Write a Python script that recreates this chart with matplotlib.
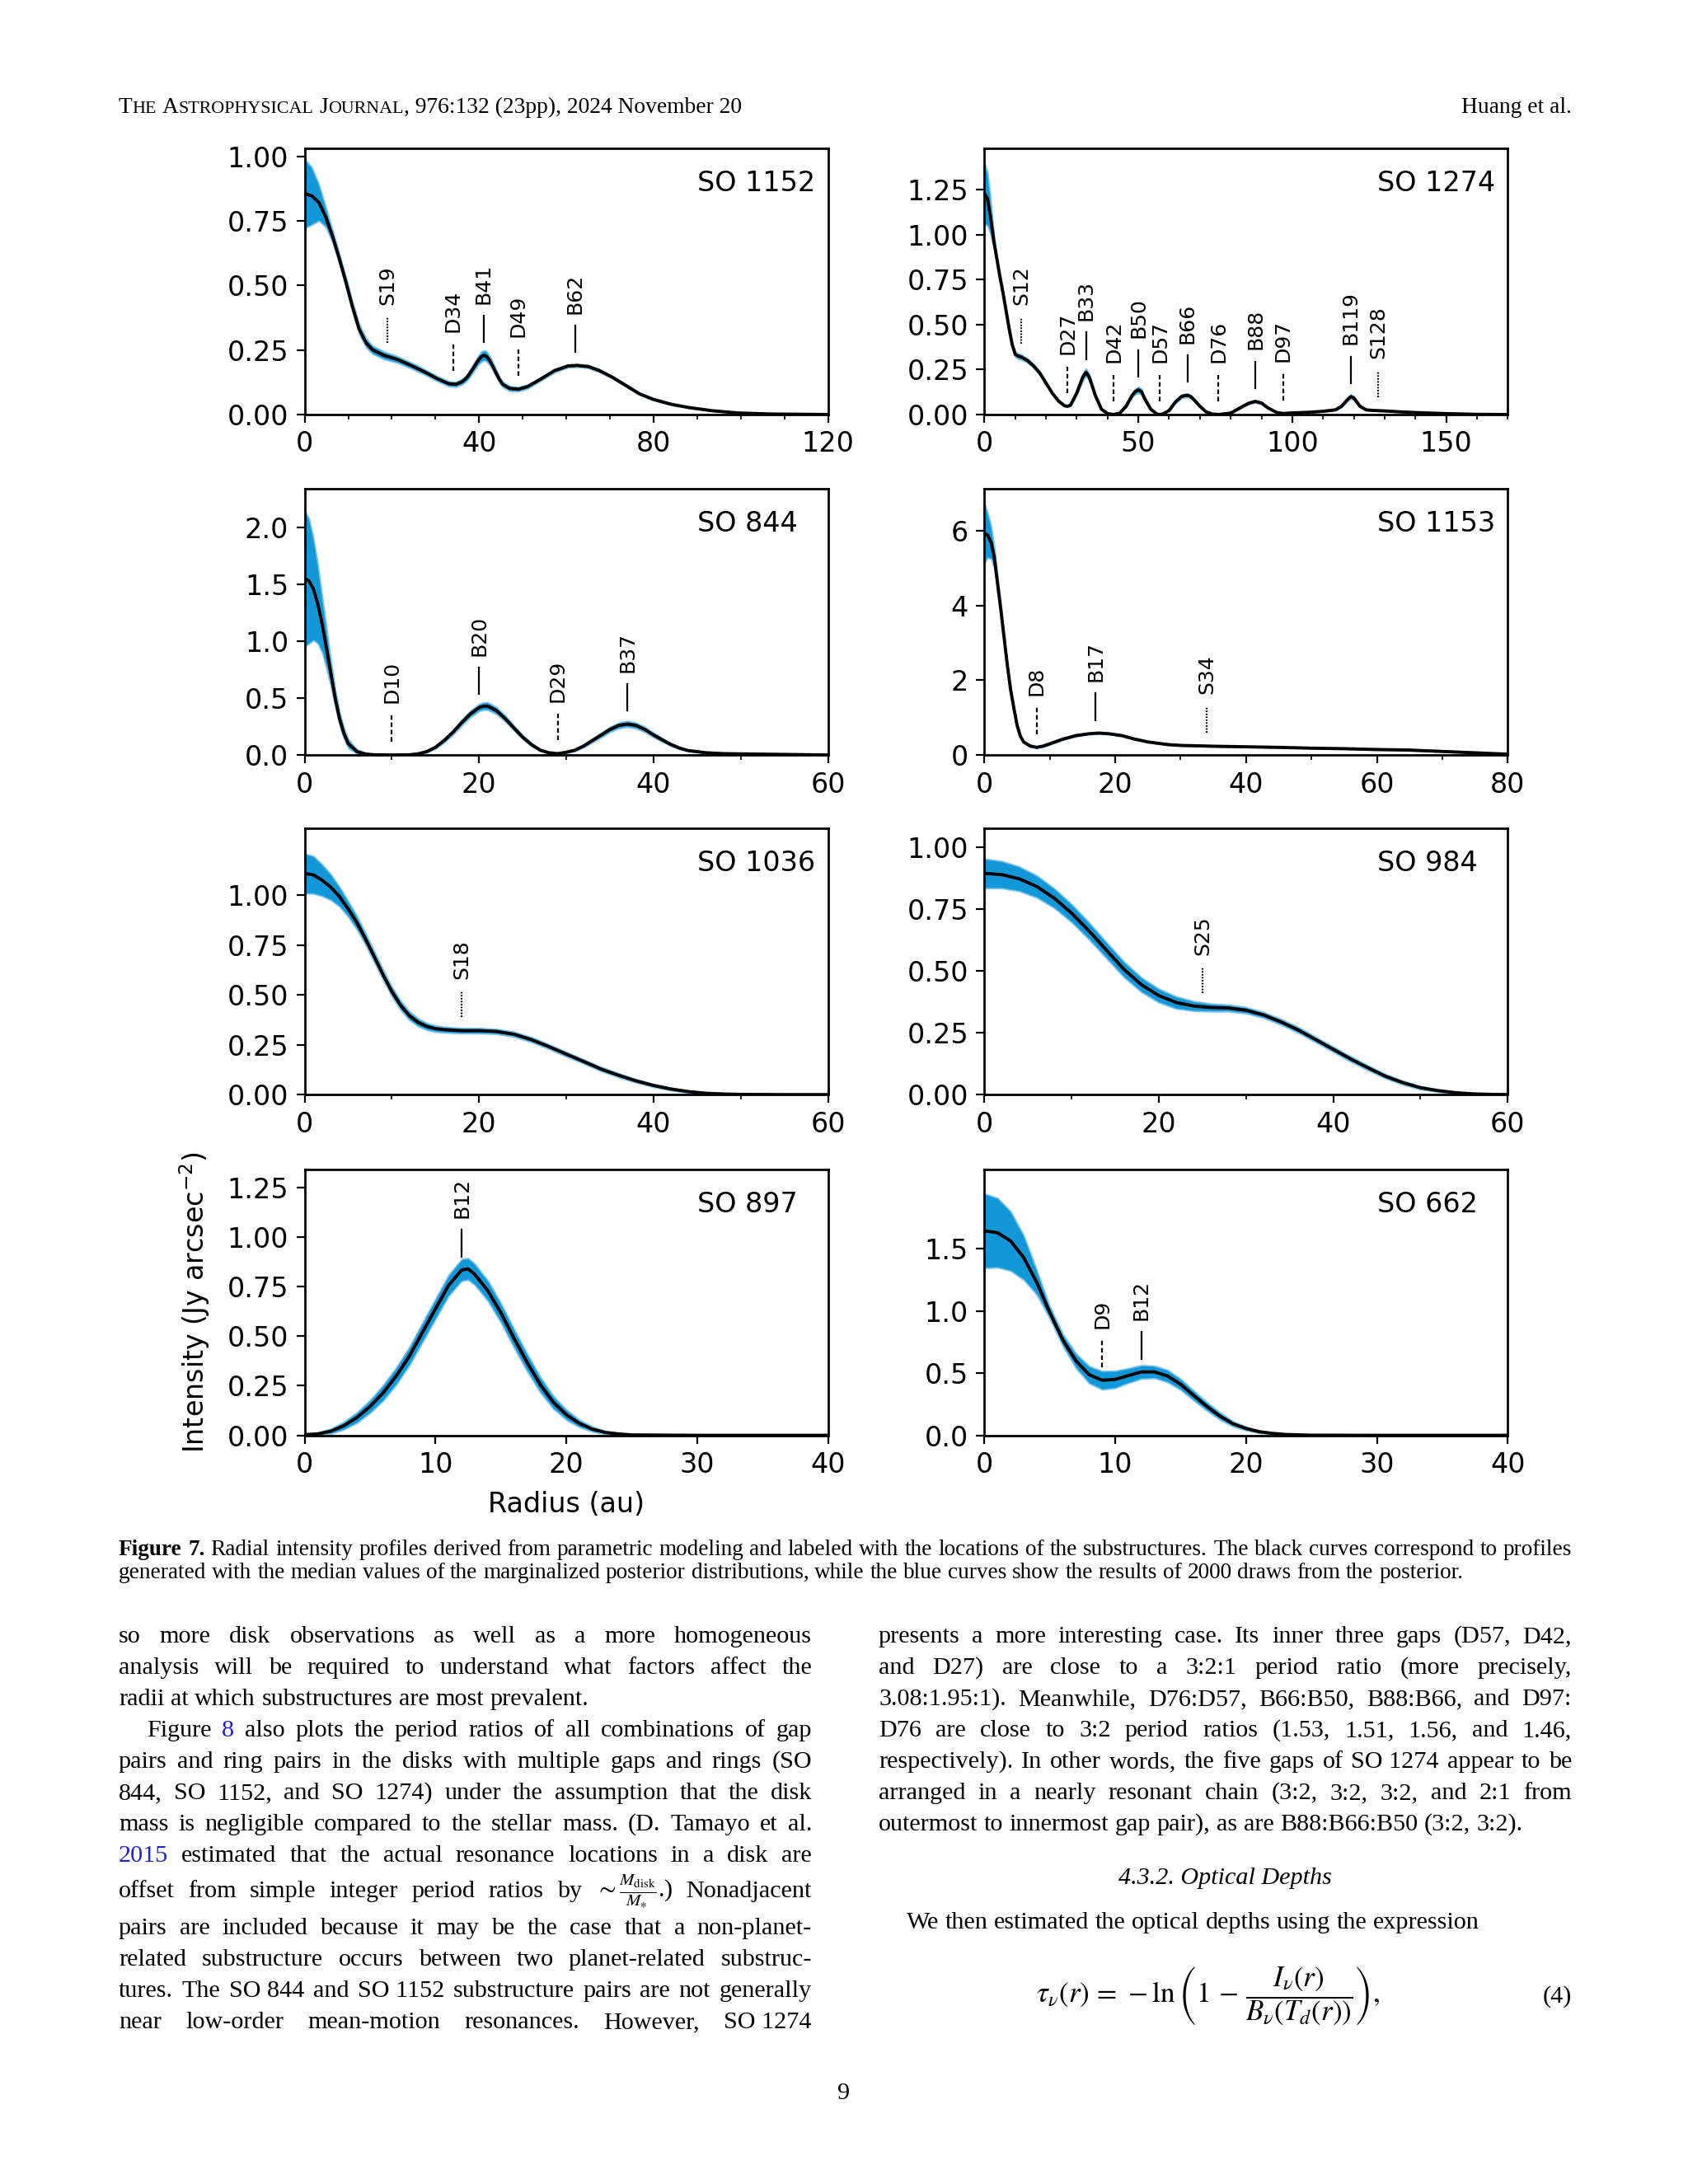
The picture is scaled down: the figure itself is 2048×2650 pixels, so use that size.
import numpy as np
import matplotlib
matplotlib.use('Agg')
import matplotlib.pyplot as plt
from matplotlib.ticker import MultipleLocator

# ---------------- data ----------------
# radius (au), median intensity (Jy/arcsec^2), half width of the blue posterior band

# SO 1152
r_1152 = [0, 1.7, 3.3, 4.8, 6.4, 7.9, 9.5, 11, 12.5, 14.1, 15.6, 18.2, 21.3, 24.4, 27.5,
          30.5, 33.1, 34.7, 36.2, 37.3, 38.3, 39.8, 40.5, 41.1, 41.7, 42.4, 43.2, 43.9, 44.7, 45.4,
          47, 49, 51.1, 54.2, 57.3, 60.4, 62.4, 65, 67.6, 70.6, 73.7, 76.8, 79.9, 84, 88.1,
          93.3, 99.4, 106.6, 120]
i_1152 = [0.856, 0.846, 0.82, 0.766, 0.69, 0.606, 0.51, 0.415, 0.33, 0.277, 0.25, 0.229, 0.213, 0.19, 0.165,
          0.138, 0.119, 0.117, 0.128, 0.145, 0.17, 0.21, 0.224, 0.229, 0.225, 0.21, 0.185, 0.16, 0.135, 0.117,
          0.101, 0.098, 0.108, 0.138, 0.17, 0.188, 0.19, 0.186, 0.17, 0.144, 0.112, 0.08, 0.059, 0.04, 0.027,
          0.015, 0.006, 0.002, 0.0]
s_1152 = [0.135, 0.11, 0.07, 0.04, 0.025, 0.02, 0.02, 0.02, 0.02, 0.018, 0.016, 0.015, 0.013, 0.012, 0.011,
          0.01, 0.01, 0.01, 0.011, 0.013, 0.015, 0.018, 0.02, 0.02, 0.02, 0.018, 0.016, 0.014, 0.012, 0.011,
          0.01, 0.009, 0.008, 0.007, 0.007, 0.006, 0.006, 0.006, 0.006, 0.005, 0.005, 0.004, 0.004, 0.003, 0.002,
          0.002, 0.001, 0.0, 0.0]
subs_1152 = ['S19', 'D34', 'B41', 'D49', 'B62']

# SO 1274
r_1274 = [0, 1, 2, 3, 4, 5, 6, 7, 8, 9, 10, 11, 12, 14, 16, 18, 20, 22, 24, 26,
          27, 28, 30, 31, 32, 33, 34, 35, 36, 38, 40, 42, 44, 46, 48, 49, 50, 51, 52, 54,
          56, 57, 58, 60, 62, 64, 65, 66, 67, 68, 70, 72, 74, 76, 80, 84, 86, 88, 90, 92,
          95, 97, 100, 105, 110, 114, 116, 118, 119, 120, 122, 124, 126, 130, 135, 140, 150, 160, 170]
i_1274 = [1.23, 1.20, 1.10, 0.97, 0.87, 0.77, 0.68, 0.58, 0.48, 0.39, 0.335, 0.325, 0.32, 0.30, 0.27, 0.23, 0.175, 0.12, 0.076, 0.049,
          0.046, 0.053, 0.12, 0.165, 0.21, 0.235, 0.21, 0.16, 0.107, 0.03, 0.005, 0.0, 0.008, 0.046, 0.107, 0.128, 0.137, 0.128, 0.09, 0.03,
          0.003, 0.0, 0.003, 0.023, 0.069, 0.1, 0.105, 0.107, 0.1, 0.084, 0.046, 0.015, 0.003, 0.0, 0.008, 0.046, 0.064, 0.073, 0.064, 0.038,
          0.011, 0.006, 0.009, 0.012, 0.018, 0.026, 0.046, 0.084, 0.1, 0.092, 0.046, 0.026, 0.023, 0.02, 0.015, 0.011, 0.005, 0.001, 0.0]
s_1274 = [0.17, 0.15, 0.1, 0.04, 0.02, 0.015, 0.015, 0.015, 0.015, 0.015, 0.015, 0.015, 0.015, 0.012, 0.01, 0.01, 0.01, 0.008, 0.006, 0.005,
          0.005, 0.006, 0.01, 0.015, 0.02, 0.022, 0.02, 0.015, 0.01, 0.005, 0.002, 0.001, 0.002, 0.006, 0.012, 0.016, 0.018, 0.016, 0.012, 0.005,
          0.002, 0.001, 0.002, 0.004, 0.008, 0.01, 0.011, 0.011, 0.01, 0.008, 0.005, 0.002, 0.001, 0.001, 0.002, 0.005, 0.006, 0.007, 0.006, 0.004,
          0.002, 0.001, 0.001, 0.002, 0.002, 0.003, 0.006, 0.01, 0.012, 0.011, 0.006, 0.003, 0.002, 0.002, 0.001, 0.001, 0.0, 0.0, 0.0]
subs_1274 = ['S12', 'D27', 'B33', 'D42', 'B50', 'D57', 'B66', 'D76', 'B88', 'D97', 'B119', 'S128']

# SO 844
r_844 = [0, 0.5, 1, 1.5, 2, 2.5, 3, 3.5, 4, 4.5, 5, 6, 7, 8, 10, 12, 13, 14, 15, 16,
         17, 18, 19, 20, 20.5, 21, 22, 23, 24, 25, 26, 27, 28, 29, 30, 31, 32, 33, 34, 35,
         36, 37, 38, 39, 40, 41, 42, 43, 44, 46, 48, 50, 55, 60]
i_844 = [1.553, 1.53, 1.46, 1.33, 1.15, 0.94, 0.72, 0.5, 0.32, 0.19, 0.1, 0.03, 0.008, 0.002, 0.0, 0.002, 0.01, 0.03, 0.068, 0.128,
         0.2, 0.285, 0.362, 0.418, 0.43, 0.43, 0.39, 0.32, 0.237, 0.157, 0.092, 0.043, 0.02, 0.012, 0.024, 0.043, 0.08, 0.128, 0.176, 0.225,
         0.26, 0.273, 0.26, 0.225, 0.176, 0.133, 0.092, 0.06, 0.039, 0.02, 0.012, 0.01, 0.005, 0.0]
s_844 = [0.6, 0.55, 0.45, 0.35, 0.25, 0.18, 0.12, 0.08, 0.06, 0.05, 0.04, 0.02, 0.01, 0.005, 0.002, 0.002, 0.004, 0.008, 0.012, 0.018,
         0.022, 0.026, 0.03, 0.032, 0.034, 0.034, 0.032, 0.028, 0.022, 0.018, 0.014, 0.009, 0.006, 0.005, 0.006, 0.009, 0.013, 0.017, 0.021, 0.024,
         0.026, 0.027, 0.026, 0.024, 0.021, 0.017, 0.013, 0.01, 0.008, 0.006, 0.004, 0.003, 0.002, 0.0]
subs_844 = ['D10', 'B20', 'D29', 'B37']

# SO 1153
r_1153 = [0, 0.5, 1, 1.5, 2, 2.5, 3, 3.5, 4, 4.5, 5, 5.5, 6, 7, 8, 9, 10, 12, 14, 16,
          17.5, 19, 21, 23, 25, 28, 30, 35, 40, 45, 50, 55, 60, 65, 70, 75, 80]
i_1153 = [5.94, 5.88, 5.7, 5.3, 4.6, 3.9, 3.15, 2.4, 1.75, 1.25, 0.79, 0.5, 0.35, 0.24, 0.205, 0.24, 0.3, 0.425, 0.52, 0.57,
          0.587, 0.57, 0.52, 0.425, 0.35, 0.28, 0.257, 0.235, 0.22, 0.205, 0.183, 0.169, 0.147, 0.132, 0.095, 0.059, 0.022]
s_1153 = [0.8, 0.6, 0.45, 0.3, 0.2, 0.12, 0.08, 0.06, 0.05, 0.05, 0.04, 0.03, 0.025, 0.02, 0.02, 0.02, 0.02, 0.02, 0.02, 0.02,
          0.02, 0.02, 0.02, 0.02, 0.015, 0.012, 0.012, 0.01, 0.01, 0.01, 0.01, 0.01, 0.01, 0.01, 0.01, 0.008, 0.005]
subs_1153 = ['D8', 'B17', 'S34']

# SO 1036
r_1036 = [0, 1, 2, 3, 4, 5, 6, 7, 8, 9, 10, 11, 12, 13, 14, 15, 16, 18, 20, 22,
          24, 26, 28, 30, 32, 34, 36, 38, 40, 42, 44, 46, 48, 50, 55, 60]
i_1036 = [1.11, 1.103, 1.076, 1.041, 0.993, 0.931, 0.862, 0.779, 0.69, 0.6, 0.517, 0.448, 0.396, 0.363, 0.342, 0.331, 0.326, 0.321, 0.321, 0.317,
          0.303, 0.276, 0.241, 0.203, 0.166, 0.128, 0.097, 0.069, 0.046, 0.028, 0.015, 0.007, 0.003, 0.001, 0.0, 0.0]
s_1036 = [0.1, 0.095, 0.08, 0.065, 0.05, 0.04, 0.035, 0.03, 0.028, 0.026, 0.025, 0.024, 0.022, 0.02, 0.018, 0.016, 0.015, 0.014, 0.014, 0.013,
          0.013, 0.013, 0.012, 0.012, 0.011, 0.011, 0.01, 0.009, 0.008, 0.007, 0.006, 0.004, 0.003, 0.002, 0.001, 0.0]
subs_1036 = ['S18']

# SO 984
r_984 = [0, 2, 4, 6, 8, 10, 12, 14, 16, 18, 20, 22, 24, 26, 28, 30, 32, 34, 36, 38,
         40, 42, 44, 46, 48, 50, 52, 54, 56, 58, 60]
i_984 = [0.894, 0.889, 0.872, 0.841, 0.794, 0.733, 0.661, 0.583, 0.506, 0.444, 0.4, 0.372, 0.358, 0.352, 0.35, 0.341, 0.322, 0.294, 0.261, 0.222,
         0.183, 0.144, 0.108, 0.074, 0.048, 0.028, 0.016, 0.008, 0.003, 0.001, 0.0]
s_984 = [0.06, 0.055, 0.05, 0.045, 0.04, 0.037, 0.035, 0.033, 0.032, 0.03, 0.028, 0.025, 0.02, 0.016, 0.014, 0.013, 0.012, 0.012, 0.012, 0.011,
         0.011, 0.011, 0.01, 0.009, 0.008, 0.007, 0.005, 0.004, 0.003, 0.001, 0.0]
subs_984 = ['S25']

# SO 897
r_897 = [0, 1, 2, 3, 4, 5, 6, 7, 8, 9, 10, 11, 12, 12.5, 13, 14, 15, 16, 17, 18,
         19, 20, 21, 22, 23, 24, 25, 30, 40]
i_897 = [0.003, 0.007, 0.021, 0.049, 0.09, 0.146, 0.215, 0.3, 0.4, 0.52, 0.639, 0.757, 0.835, 0.84, 0.8125, 0.73, 0.618, 0.49, 0.368, 0.257,
         0.167, 0.104, 0.06, 0.031, 0.014, 0.007, 0.002, 0.0, 0.0]
s_897 = [0.006, 0.008, 0.013, 0.02, 0.027, 0.033, 0.04, 0.044, 0.047, 0.05, 0.052, 0.054, 0.055, 0.055, 0.054, 0.052, 0.05, 0.048, 0.045, 0.04,
         0.033, 0.026, 0.019, 0.013, 0.008, 0.005, 0.003, 0.0, 0.0]
subs_897 = ['B12']

# SO 662
r_662 = [0, 1, 2, 3, 4, 5, 6, 7, 8, 9, 10, 11, 12, 13, 14, 15, 16, 17, 18, 19,
         20, 21, 22, 23, 25, 30, 40]
i_662 = [1.645, 1.63, 1.563, 1.43, 1.23, 0.987, 0.765, 0.599, 0.488, 0.443, 0.45, 0.481, 0.51, 0.51, 0.477, 0.41, 0.32, 0.233, 0.155, 0.093,
         0.055, 0.029, 0.016, 0.007, 0.001, 0.0, 0.0]
s_662 = [0.3, 0.28, 0.24, 0.18, 0.1, 0.05, 0.05, 0.06, 0.07, 0.075, 0.07, 0.06, 0.055, 0.05, 0.05, 0.045, 0.04, 0.035, 0.03, 0.022,
         0.015, 0.01, 0.007, 0.004, 0.001, 0.0, 0.0]
subs_662 = ['D9', 'B12']

# axis ranges and ticks
names = ['SO 1152', 'SO 1274', 'SO 844', 'SO 1153', 'SO 1036', 'SO 984', 'SO 897', 'SO 662']
xmax = [120, 170, 60, 80, 60, 60, 40, 40]
ymax = [1.03, 1.48, 2.34, 7.12, 1.335, 1.075, 1.343, 2.14]
xticks = [[0, 40, 80, 120], [0, 50, 100, 150], [0, 20, 40, 60], [0, 20, 40, 60, 80],
          [0, 20, 40, 60], [0, 20, 40, 60], [0, 10, 20, 30, 40], [0, 10, 20, 30, 40]]
yticks = [[0, 0.25, 0.5, 0.75, 1.0], [0, 0.25, 0.5, 0.75, 1.0, 1.25], [0, 0.5, 1.0, 1.5, 2.0], [0, 2, 4, 6],
          [0, 0.25, 0.5, 0.75, 1.0], [0, 0.25, 0.5, 0.75, 1.0], [0, 0.25, 0.5, 0.75, 1.0, 1.25], [0, 0.5, 1.0, 1.5]]
minor = [10, 10, 10, 10, 10, 10, None, None]

# page text
header_left = [('T', 1), ('HE', 0.8), (' ', 1), ('A', 1), ('STROPHYSICAL', 0.8), (' ', 1),
               ('J', 1), ('OURNAL', 0.8), (', 976:132 (23pp), 2024 November 20', 1)]
header_right = 'Huang et al.'
caption = ['*Figure *7. Radial intensity profiles derived from parametric modeling and labeled with the locations of the substructures. The black curves correspond to profiles',
           'generated with the median values of the marginalized posterior distributions, while the blue curves show the results of 2000 draws from the posterior.']
left_col = ['so more disk observations as well as a more homogeneous',
            'analysis will be required to understand what factors affect the',
            'radii at which substructures are most prevalent.',
            'Figure @8 also plots the period ratios of all combinations of gap',
            'pairs and ring pairs in the disks with multiple gaps and rings (SO',
            '844, SO 1152, and SO 1274) under the assumption that the disk',
            'mass is negligible compared to the stellar mass. (D. Tamayo et al.',
            '@2015 estimated that the actual resonance locations in a disk are',
            r'offset from simple integer period ratios by $\sim\frac{M_{\mathrm{disk}}}{M_{\ast}}$.) Nonadjacent',
            'pairs are included because it may be the case that a non-planet-',
            'related substructure occurs between two planet-related substruc-',
            'tures. The SO~844 and SO~1152 substructure pairs are not generally',
            'near low-order mean-motion resonances. However, SO~1274']
right_col = ['presents a more interesting case. Its inner three gaps (D57, D42,',
             'and D27) are close to a 3:2:1 period ratio (more precisely,',
             '3.08:1.95:1). Meanwhile, D76:D57, B66:B50, B88:B66, and D97:',
             'D76 are close to 3:2 period ratios (1.53, 1.51, 1.56, and 1.46,',
             'respectively). In other words, the five gaps of SO~1274 appear to be',
             'arranged in a nearly resonant chain (3:2, 3:2, 3:2, and 2:1 from',
             'outermost to innermost gap pair), as are B88:B66:B50 (3:2, 3:2).']
heading = '4.3.2. Optical Depths'
intro = 'We then estimated the optical depths using the expression'
equation = r'$\tau_{\nu}(r)\, =\, -\ln\left(1\, -\, \dfrac{I_{\nu}(r)}{B_{\nu}(T_{d}(r))}\right),$'

# ---------------- figure ----------------
W, H = 2048, 2650
BLUE = '#1298d8'
LINK = '#1f1fd6'
SERIF = 'Liberation Serif'

fig = plt.figure(figsize=(W / 200, H / 200), dpi=200)
rend = fig.canvas.get_renderer()

series = [(r_1152, i_1152, s_1152, subs_1152), (r_1274, i_1274, s_1274, subs_1274),
          (r_844, i_844, s_844, subs_844), (r_1153, i_1153, s_1153, subs_1153),
          (r_1036, i_1036, s_1036, subs_1036), (r_984, i_984, s_984, subs_984),
          (r_897, i_897, s_897, subs_897), (r_662, i_662, s_662, subs_662)]

lefts = [0.1805, 0.5832]
bottoms = [0.8102, 0.6543, 0.4988, 0.3428]
LS = {'B': '-', 'D': (0, (2.5, 1.5)), 'S': (0, (0.8, 0.8))}

for k, (r, inten, spr, subs) in enumerate(series):
    ax = fig.add_axes([lefts[k % 2], bottoms[k // 2], 0.310, 0.1218])
    r = np.array(r, float)
    inten = np.array(inten, float)
    spr = np.array(spr, float)
    ax.fill_between(r, np.clip(inten - spr, 0, None), inten + spr, color=BLUE, lw=0.6,
                    edgecolor='#7cc4ea', zorder=1)
    ax.plot(r, inten, color='black', lw=1.4, zorder=3)
    ax.set_xlim(0, xmax[k])
    ax.set_ylim(0, ymax[k])
    ax.set_xticks(xticks[k])
    ax.set_yticks(yticks[k])
    if minor[k]:
        ax.xaxis.set_minor_locator(MultipleLocator(minor[k]))
    ax.tick_params(labelsize=12)
    for sp in ax.spines.values():
        sp.set_linewidth(1.0)
    ax.text(0.75, 0.92, names[k], transform=ax.transAxes, fontsize=12, ha='left', va='top')

    # substructure markers: line above the curve, label above the line
    for lab in subs:
        rr = float(lab[1:])
        y0 = np.interp(rr, r, inten) + 0.05 * ymax[k]
        ax.plot([rr, rr], [y0, y0 + 0.1 * ymax[k]], color='black', lw=0.8, ls=LS[lab[0]], zorder=4)
        ax.text(rr, y0 + 0.145 * ymax[k], lab, rotation=90, ha='center', va='bottom', fontsize=9)

    if k == 6:
        ax.set_xlabel('Radius (au)', fontsize=12)
        ax.set_ylabel(r'Intensity (Jy arcsec$^{-2}$)', fontsize=12)
        ax.xaxis.set_label_coords(0.5, -0.21)
        ax.yaxis.set_label_coords(-0.177, 0.5)


# ---------------- page text helpers ----------------
def text_w(s, size, **kw):
    t = fig.text(0, 0, s, fontsize=size, family=SERIF, math_fontfamily='stix', **kw)
    w = t.get_window_extent(rend).width
    t.remove()
    return w


def space_w(size):
    return text_w('n n', size) - text_w('nn', size)


def fit_size(s, width, **kw):
    return 10 * width / text_w(s, 10, **kw)


def put_line(s, x0, x1, yb, size, justify=True, indent=0, style='normal'):
    items = []
    for w in s.split(' '):
        kw = {'color': 'black', 'weight': 'normal'}
        if w.startswith('@'):
            w, kw['color'] = w[1:], LINK
        elif w.startswith('*'):
            w, kw['weight'] = w[1:], 'bold'
        t = fig.text(0, 1 - yb / H, w.replace('~', ' '), fontsize=size, family=SERIF, style=style,
                     va='baseline', math_fontfamily='stix', **kw)
        items.append((t, t.get_window_extent(rend).width))
    total = sum(w for _, w in items)
    if justify and len(items) > 1:
        gap = (x1 - x0 - indent - total) / (len(items) - 1)
    else:
        gap = space_w(size)
    x = x0 + indent
    for t, w in items:
        t.set_x(x / W)
        x += w + gap


COL1 = (144, 985)
COL2 = (1066, 1907)
INDENT = 34

# the journal face is narrower than Liberation Serif, so size the body so the
# tightest justified line still keeps small word gaps
body = min(fit_size('radii at which substructures are most prevalent.', 641),
           fit_size('respectively). In other words, the five gaps of SO 1274 appear to be', 815))
cap = fit_size(caption[1], 1630)
head = fit_size(header_right, 134)
eq_size = fit_size(equation, 417)

# running header (small caps journal name)
x = COL1[0]
for s, sc in header_left:
    if s == ' ':
        x += space_w(head)
        continue
    t = fig.text(x / W, 1 - 137 / H, s, fontsize=head * sc, family=SERIF, va='baseline')
    x += t.get_window_extent(rend).width
fig.text(COL2[1] / W, 1 - 137 / H, header_right, fontsize=head, family=SERIF, va='baseline', ha='right')

# caption
put_line(caption[0], COL1[0], COL2[1], 1887, cap, justify=True)
put_line(caption[1], COL1[0], COL2[1], 1915, cap, justify=False)

# left column
left_base = [1993, 2031, 2069, 2107, 2145, 2183, 2221, 2259, 2302, 2347, 2385, 2423, 2461]
for n, line in enumerate(left_col):
    put_line(line, COL1[0], COL1[1], left_base[n], body,
             justify=(n != 2), indent=INDENT if n == 3 else 0)

# right column
for n, line in enumerate(right_col):
    put_line(line, COL2[0], COL2[1], 1993 + 38 * n, body, justify=(n != len(right_col) - 1))

fig.text((COL2[0] + COL2[1]) / 2 / W, 1 - 2286 / H, heading, fontsize=body, family=SERIF,
         style='italic', ha='center', va='baseline')
put_line(intro, COL2[0], COL2[1], 2340, body, justify=False, indent=INDENT)
fig.text(1257 / W, 1 - 2430 / H, equation, fontsize=eq_size, family=SERIF, math_fontfamily='stix',
         ha='left', va='baseline')
fig.text(COL2[1] / W, 1 - 2430 / H, '(4)', fontsize=body, family=SERIF, ha='right', va='baseline')

# page number
fig.text(0.5, 1 - 2547 / H, '9', fontsize=body, family=SERIF, ha='center', va='baseline')

fig.savefig('out.png', dpi=200)
